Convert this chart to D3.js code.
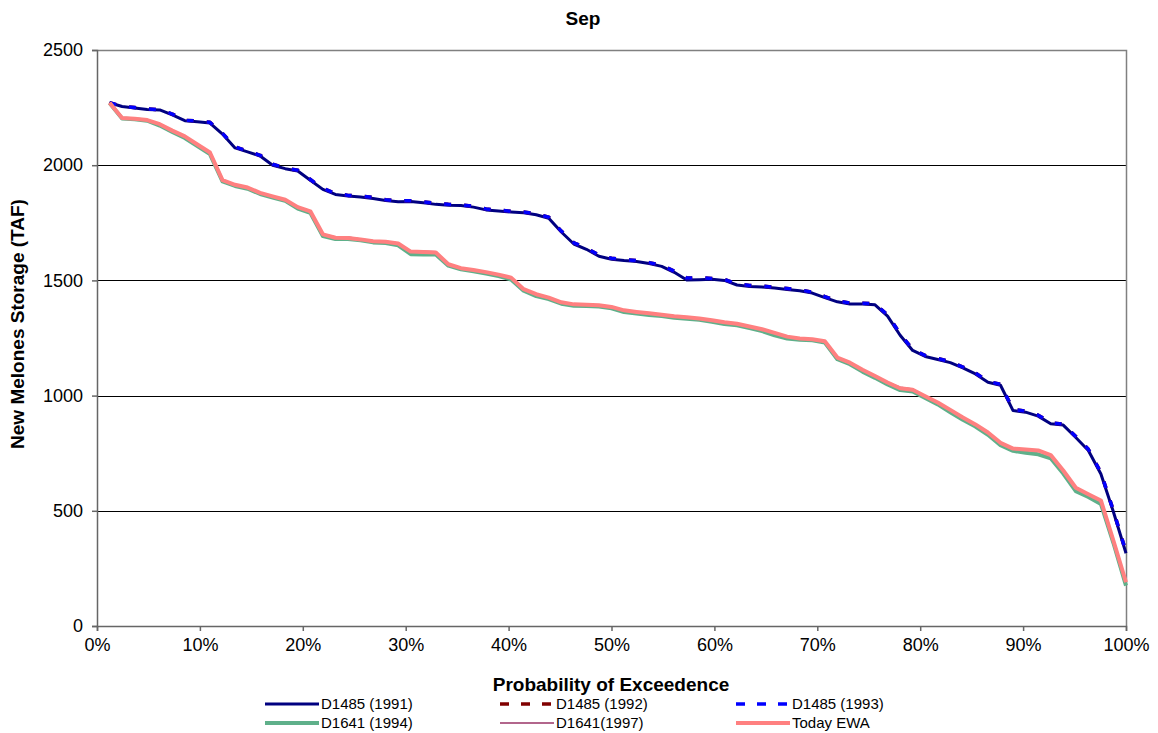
<!DOCTYPE html>
<html><head><meta charset="utf-8">
<script src="https://cdn.jsdelivr.net/npm/d3@7"></script>
<style>
body{margin:0;background:#fff}
text{font-family:Arial,"Liberation Sans",sans-serif;fill:#000}
</style></head>
<body><svg id="c" width="1158" height="733"></svg>
<script>
// ---- data ----
const title = "Sep";
const yTicks = [0, 500, 1000, 1500, 2000, 2500];
const xTicks = [0, 0.1, 0.2, 0.3, 0.4, 0.5, 0.6, 0.7, 0.8, 0.9, 1.0];
const seriesNames = ["D1485 (1991)", "D1485 (1992)", "D1485 (1993)", "D1641 (1994)", "D1641(1997)", "Today EWA"];
const nYears = 82;

const d1485_1991 = [2271,2255,2248,2242,2240,2218,2193,2189,2183,2135,2075,2058,2040,2000,1985,1975,1935,1895,1873,1866,
  1862,1855,1847,1841,1842,1837,1830,1826,1825,1818,1806,1801,1797,1794,1785,1770,1710,1658,1635,1605,
  1592,1586,1582,1573,1561,1535,1502,1503,1505,1500,1480,1474,1471,1467,1461,1455,1445,1425,1407,1398,
  1398,1394,1345,1262,1196,1170,1157,1143,1120,1094,1058,1045,935,928,911,878,872,818,762,660,
  495,316];
const d1485_1993 = [2271,2256,2250,2244,2241,2222,2195,2192,2186,2138,2080,2061,2043,2004,1988,1978,1938,1899,1878,1869,
  1866,1860,1850,1845,1846,1841,1834,1830,1828,1822,1810,1805,1800,1797,1789,1774,1714,1663,1640,1610,
  1596,1590,1586,1577,1566,1540,1510,1512,1508,1504,1485,1478,1475,1470,1465,1459,1449,1430,1411,1402,
  1401,1398,1350,1268,1200,1174,1161,1147,1124,1098,1062,1049,940,932,915,882,876,822,767,666,
  500,322];
const d1485_1992 = d1485_1993.slice();
const d1641_1994 = [2270,2203,2199,2193,2172,2144,2118,2083,2048,1930,1910,1898,1875,1860,1845,1812,1793,1692,1680,1680,
  1674,1665,1662,1652,1614,1612,1612,1564,1548,1540,1530,1519,1504,1455,1432,1419,1399,1390,1389,1387,
  1379,1363,1356,1350,1345,1338,1334,1329,1320,1311,1305,1293,1280,1262,1248,1242,1240,1230,1158,1136,
  1104,1077,1048,1024,1018,990,962,928,895,866,830,785,760,752,745,728,662,585,560,530,
  360,175];
const d1641_1997 = [2271,2206,2203,2197,2179,2151,2126,2091,2056,1936,1916,1904,1881,1866,1851,1819,1801,1702,1688,1688,
  1680,1672,1670,1662,1628,1627,1624,1572,1554,1546,1537,1526,1513,1463,1441,1426,1406,1397,1395,1393,
  1386,1371,1364,1358,1352,1345,1341,1336,1328,1319,1313,1301,1289,1273,1257,1249,1246,1237,1166,1144,
  1113,1086,1058,1036,1029,998,971,939,906,876,841,796,771,767,763,743,676,601,573,546,
  371,191];
const todayEWA = [2271,2205,2202,2196,2178,2150,2125,2090,2055,1935,1915,1903,1880,1865,1850,1818,1800,1700,1685,1684,
  1678,1670,1668,1660,1625,1623,1621,1570,1553,1545,1536,1525,1512,1462,1440,1425,1405,1396,1394,1392,
  1385,1370,1363,1357,1351,1344,1340,1335,1327,1318,1312,1300,1288,1272,1256,1248,1245,1236,1165,1143,
  1112,1085,1057,1032,1025,997,970,938,905,875,840,795,770,766,762,742,675,600,572,545,
  370,190];

const seriesData = [d1485_1991, d1485_1992, d1485_1993, d1641_1994, d1641_1997, todayEWA];
const seriesStyle = [
  {color:"#000080", width:3, dash:null},
  {color:"#800000", width:3.5, dash:"7,13"},
  {color:"#0000ff", width:3.5, dash:"7,13"},
  {color:"#5fb08a", width:4, dash:null},
  {color:"#993366", width:1.5, dash:null},
  {color:"#ff8080", width:4, dash:null}
];

// ---- chart ----
const svg = d3.select("#c");
const L = 97, R = 1126, T = 50, B = 626;
const x = d3.scaleLinear().domain([0, 1]).range([L, R]);
const y = d3.scaleLinear().domain([0, 2500]).range([B, T]);

// gridlines
svg.append("g").selectAll("line").data(yTicks.filter(v => v > 0 && v < 2500)).join("line")
  .attr("x1", L).attr("x2", R).attr("y1", d => Math.round(y(d)) + 0.5).attr("y2", d => Math.round(y(d)) + 0.5)
  .attr("stroke", "#000").attr("stroke-width", 1);

// plot border (top/right)
svg.append("path").attr("d", `M${L},${T + 0.5}H${R + 0.5}V${B}`).attr("fill", "none").attr("stroke", "#808080").attr("stroke-width", 1.5);

// axes
const yAxis = svg.append("g").attr("transform", `translate(${L},0)`)
  .call(d3.axisLeft(y).tickValues(yTicks).tickSize(5).tickPadding(9).tickFormat(d3.format("d")));
const xAxis = svg.append("g").attr("transform", `translate(0,${B})`)
  .call(d3.axisBottom(x).tickValues(xTicks).tickSize(5).tickPadding(7).tickFormat(d3.format(".0%")));
[yAxis, xAxis].forEach(a => {
  a.select(".domain").attr("stroke", "#666").attr("stroke-width", 1.5);
  a.selectAll(".tick line").attr("stroke", "#666").attr("stroke-width", 1.5);
  a.selectAll("text").attr("font-size", 18).attr("fill", "#000").style("font-family", "Arial, 'Liberation Sans', sans-serif");
});

// lines
const line = d3.line().x((d, i) => x((i + 1) / nYears)).y(d => y(d));
seriesData.forEach((s, k) => {
  const st = seriesStyle[k];
  svg.append("path").datum(s).attr("d", line)
    .attr("fill", "none").attr("stroke", st.color).attr("stroke-width", st.width)
    .attr("stroke-linejoin", "round")
    .attr("stroke-dasharray", st.dash);
});

// titles
svg.append("text").attr("x", 583).attr("y", 25).attr("text-anchor", "middle")
  .attr("font-size", 19).attr("font-weight", "bold").text(title);
svg.append("text").attr("transform", `translate(24,${(T + B) / 2 - 14}) rotate(-90)`).attr("text-anchor", "middle")
  .attr("font-size", 19).attr("font-weight", "bold").text("New Melones Storage (TAF)");
svg.append("text").attr("x", 611).attr("y", 691).attr("text-anchor", "middle")
  .attr("font-size", 19).attr("font-weight", "bold").text("Probability of Exceedence");

// legend
const legX = [265, 500, 736], legY = [704, 723];
seriesNames.forEach((n, k) => {
  const cx = legX[k % 3], cy = legY[Math.floor(k / 3)];
  const st = seriesStyle[k];
  svg.append("line").attr("x1", cx).attr("x2", cx + 54).attr("y1", cy).attr("y2", cy)
    .attr("stroke", st.color).attr("stroke-width", st.width)
    .attr("stroke-dasharray", st.dash ? "9,12" : null);
  svg.append("text").attr("x", cx + 56).attr("y", cy + 5).attr("font-size", 15).text(n);
});
</script>
</body></html>
